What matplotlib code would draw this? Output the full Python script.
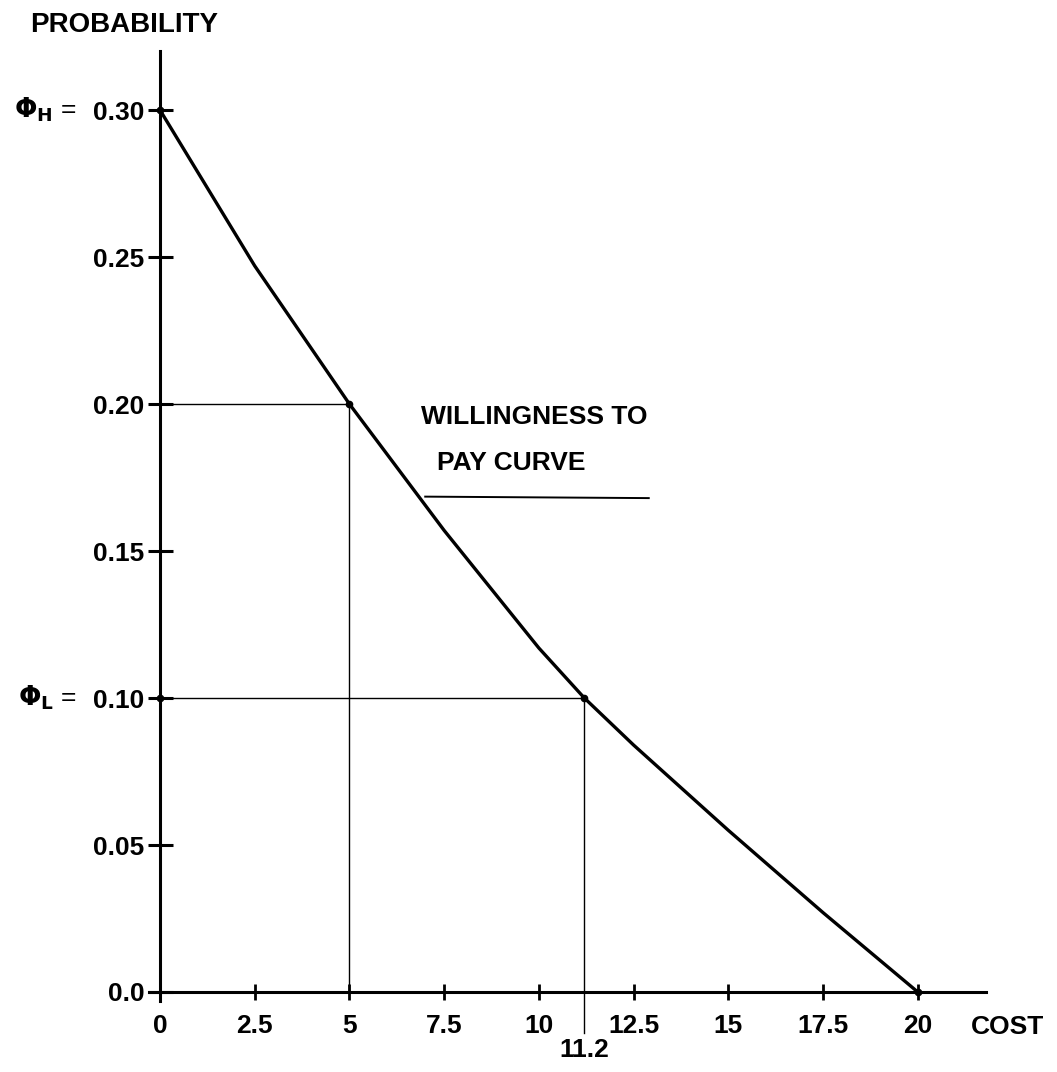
import matplotlib
matplotlib.use("Agg")
import matplotlib.pyplot as plt

# willingness-to-pay curve
cost = [0, 2.5, 5, 7.5, 10, 11.2, 12.5, 15, 17.5, 20]
prob = [0.30, 0.247, 0.20, 0.157, 0.117, 0.10, 0.084, 0.055, 0.027, 0.0]

x_ticks = [0, 2.5, 5, 7.5, 10, 12.5, 15, 17.5, 20]
x_labels = ["0", "2.5", "5", "7.5", "10", "12.5", "15", "17.5", "20"]
y_ticks = [0.0, 0.05, 0.10, 0.15, 0.20, 0.25, 0.30]
y_labels = ["0.0", "0.05", "0.10", "0.15", "0.20", "0.25", "0.30"]

# reference points marked on the curve
marks = [(5, 0.20), (11.2, 0.10)]
phi_h, phi_l = 0.30, 0.10

plt.rcParams["font.family"] = ["Liberation Sans", "DejaVu Sans"]
plt.rcParams["font.weight"] = "bold"

fig = plt.figure(figsize=(10.57, 10.72), dpi=100)
ax = fig.add_axes([0.1406, 0.0664, 0.7922, 0.8858])
ax.set_xlim(-0.3, 21.8)
ax.set_ylim(-0.003, 0.32)

for s in ["top", "right"]:
    ax.spines[s].set_visible(False)
for s in ["left", "bottom"]:
    ax.spines[s].set_linewidth(2.2)
    ax.spines[s].set_position(("data", 0))

ax.plot(cost, prob, color="black", lw=2.4, solid_capstyle="round", zorder=3)

# guide lines
for cx, py in marks:
    ax.plot([0, cx], [py, py], color="black", lw=1.0)
    ax.plot([cx, cx], [0, py], color="black", lw=1.0)
    ax.plot([cx], [py], "o", color="black", ms=4.5, zorder=4)
ax.plot([11.2, 11.2], [0, -0.014], color="black", lw=1.0, clip_on=False)
ax.plot([0, 0, 20], [0.30, 0.10, 0.0], "o", color="black", ms=4.5, zorder=4)

ax.set_xticks(x_ticks)
ax.set_xticklabels(x_labels)
ax.set_yticks(y_ticks)
ax.set_yticklabels(y_labels)
ax.tick_params(axis="y", direction="inout", length=18, width=2.2, labelsize=19, pad=2)
ax.tick_params(axis="x", direction="inout", length=12, width=2.0, labelsize=19, pad=10)

ax.text(11.2, -0.0155, "11.2", ha="center", va="top", fontsize=19, clip_on=False)
ax.text(21.4, -0.012, "COST", ha="left", va="center", fontsize=19, clip_on=False)
fig.text(30 / 1057, 1 - 38 / 1072, "PROBABILITY", ha="left", va="bottom",
         fontsize=20)

ax.annotate(r"$\Phi_{\mathsf{H}}$ =", xy=(0, phi_h), xytext=(-60, 0),
            textcoords="offset points", ha="right", va="center", fontsize=19,
            fontweight="normal")
ax.annotate(r"$\Phi_{\mathsf{L}}$ =", xy=(0, phi_l), xytext=(-60, 0),
            textcoords="offset points", ha="right", va="center", fontsize=19,
            fontweight="normal")

# curve label with leader line
ax.plot([7.0, 12.9], [0.1685, 0.1680], color="black", lw=1.4)
ax.text(6.9, 0.1955, "WILLINGNESS TO", ha="left", va="center", fontsize=19)
ax.text(7.3, 0.180, "PAY CURVE", ha="left", va="center", fontsize=19)

fig.savefig("out.png", dpi=100)
